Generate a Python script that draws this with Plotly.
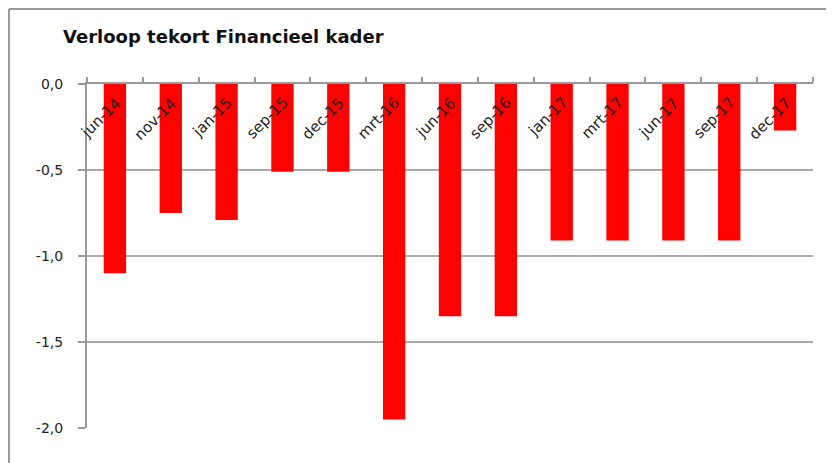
import plotly.graph_objects as go

categories = ["jun-14", "nov-14", "jan-15", "sep-15", "dec-15", "mrt-16", "jun-16",
              "sep-16", "jan-17", "mrt-17", "jun-17", "sep-17", "dec-17"]
values = [-1.10, -0.75, -0.79, -0.51, -0.51, -1.95, -1.35, -1.35, -0.91, -0.91, -0.91, -0.91, -0.27]
y_ticks = [0, -0.5, -1.0, -1.5, -2.0]
y_tick_labels = ["0,0", "-0,5", "-1,0", "-1,5", "-2,0"]

# page body has an 8px margin; compensate so the picture lands where the reference is
OFF = 8
W, H = 834 - OFF, 463 - OFF
L, T = 87 - OFF, 84 - OFF
R = W - (813 - OFF)
B = H - (428 - OFF)
pw, ph = W - L - R, H - T - B

fig = go.Figure()
fig.add_trace(go.Bar(x=categories, y=values, marker=dict(color="#FF0000", line=dict(width=0)),
                     hoverinfo="x+y"))

annotations = [
    dict(x=c, y=0, xref="x", yref="y", text=c, showarrow=False, textangle=-45,
         xanchor="right", yanchor="top", xshift=12, yshift=-7,
         font=dict(size=15, color="#222222", family="DejaVu Sans"))
    for c in categories
]

fx = 1.0  # frame position in figure pixels
fig.update_layout(
    width=W, height=H,
    margin=dict(l=L, r=R, t=T, b=B, pad=0, autoexpand=False),
    paper_bgcolor="white", plot_bgcolor="white",
    bargap=0.6,
    showlegend=False,
    font=dict(family="DejaVu Sans", color="#222222"),
    title=dict(text="<b>Verloop tekort Financieel kader</b>", x=(63 - OFF) / W, xanchor="left",
               y=1 - (37 - OFF) / H, yanchor="middle",
               font=dict(size=18, color="#111111", family="DejaVu Sans")),
    xaxis=dict(
        side="top", type="category", automargin=False,
        range=[-0.5, len(categories) - 0.5], autorange=False,
        showline=True, linecolor="#999999", linewidth=2,
        ticks="outside", tickson="boundaries", ticklen=5, tickcolor="#999999", tickwidth=2,
        showticklabels=False,
        showgrid=False, zeroline=False,
    ),
    yaxis=dict(
        range=[-2.0, 0.0], autorange=False, tickvals=y_ticks, ticktext=y_tick_labels, automargin=False,
        showline=True, linecolor="#999999", linewidth=2,
        ticks="outside", ticklen=7, tickcolor="#999999", tickwidth=2,
        ticklabelstandoff=12,
        showgrid=True, gridcolor="#aaaaaa", gridwidth=2,
        zeroline=False,
        tickfont=dict(size=14, color="#222222"),
    ),
    annotations=annotations,
    shapes=[
        dict(type="line", xref="paper", yref="paper",
             x0=(fx - L) / pw, x1=(W - L) / pw, y0=1 + (T - fx) / ph, y1=1 + (T - fx) / ph,
             line=dict(color="#999999", width=2)),
        dict(type="line", xref="paper", yref="paper",
             x0=(fx - L) / pw, x1=(fx - L) / pw, y0=1 + (T - fx) / ph, y1=-B / ph,
             line=dict(color="#999999", width=2)),
    ],
)

fig.write_html("out.html")
